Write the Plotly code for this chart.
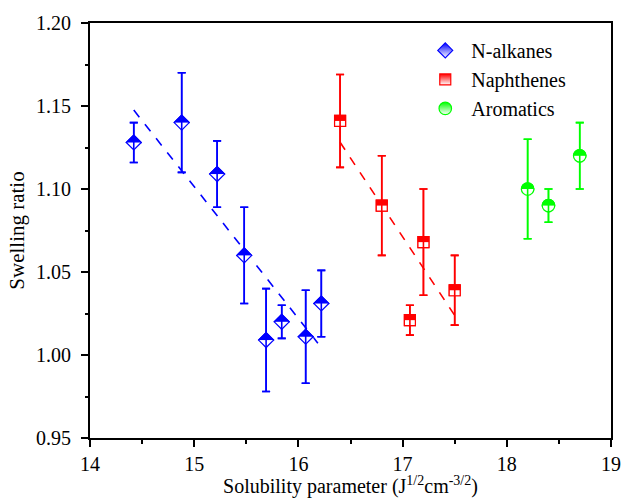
import numpy as np
import plotly.graph_objects as go

# N-alkanes
alk_x = [14.42, 14.88, 15.22, 15.48, 15.69, 15.84, 16.07, 16.22]
alk_y = [1.128, 1.140, 1.109, 1.060, 1.009, 1.020, 1.011, 1.031]
alk_e = [0.012, 0.030, 0.020, 0.029, 0.031, 0.010, 0.028, 0.020]
# Naphthenes
nap_x = [16.40, 16.80, 17.07, 17.20, 17.50]
nap_y = [1.141, 1.090, 1.021, 1.068, 1.039]
nap_e = [0.028, 0.030, 0.009, 0.032, 0.021]
# Aromatics
aro_x = [18.20, 18.40, 18.70]
aro_y = [1.100, 1.090, 1.120]
aro_e = [0.030, 0.010, 0.020]

BLUE = "#0000ff"
RED = "#ff0000"
GREEN = "#00ff00"
FONT = "Liberation Serif"

fig = go.Figure()


def fit_line(xs, ys, color):
    k, b = np.polyfit(xs, ys, 1)
    fx = [min(xs), max(xs)]
    fy = [k * v + b for v in fx]
    fig.add_trace(go.Scatter(x=fx, y=fy, mode="lines", showlegend=False,
                             hoverinfo="skip",
                             line=dict(color=color, width=1.6, dash="dash")))


fit_line(alk_x, alk_y, BLUE)
fit_line(nap_x, nap_y, RED)


def series(xs, ys, es, name, color, symbol, size, half, cover):
    err = dict(type="data", array=es, visible=True, color=color, thickness=1.6, width=4)
    # legend-carrying trace (gradient marker approximates the half-filled symbol)
    fig.add_trace(go.Scatter(
        x=xs, y=ys, mode="markers", name=name, error_y=err,
        marker=dict(symbol=symbol, size=size, color=color,
                    gradient=dict(type="vertical", color="white"),
                    line=dict(color=color, width=1.2)),
    ))
    # solid symbol
    fig.add_trace(go.Scatter(x=xs, y=ys, mode="markers", showlegend=False, hoverinfo="skip",
                             marker=dict(symbol=symbol, size=size, color=color,
                                         line=dict(width=0))))
    # white band hiding the lower half
    fig.add_trace(go.Scatter(x=xs, y=ys, mode="markers", showlegend=False, hoverinfo="skip",
                             marker=dict(symbol="line-ew", size=cover, angle=0,
                                         standoff=half / 2,
                                         line=dict(color="white", width=half))))
    # error bars again, visible through the open half
    fig.add_trace(go.Scatter(x=xs, y=ys, mode="markers", showlegend=False, hoverinfo="skip",
                             error_y=err,
                             marker=dict(size=1, color="rgba(0,0,0,0)")))
    # outline
    fig.add_trace(go.Scatter(x=xs, y=ys, mode="markers", showlegend=False, hoverinfo="skip",
                             marker=dict(symbol=symbol + "-open", size=size, color=color,
                                         line=dict(color=color, width=1.2))))


series(alk_x, alk_y, alk_e, "N-alkanes", BLUE, "diamond", 11.5, 7.6, 10.8)
series(nap_x, nap_y, nap_e, "Naphthenes", RED, "square", 11, 5.6, 8.0)
series(aro_x, aro_y, aro_e, "Aromatics", GREEN, "circle", 12.5, 6.4, 9.2)

axis_common = dict(showline=True, linecolor="black", linewidth=2, mirror=True,
                   ticks="outside", tickcolor="black", tickwidth=1.5, ticklen=7,
                   showgrid=False, zeroline=False, automargin=False,
                   tickfont=dict(family=FONT, size=20, color="black"))

fig.update_xaxes(range=[14, 19], dtick=1, tick0=14,
                 minor=dict(ticks="outside", ticklen=4, dtick=0.5, tickcolor="black", tickwidth=1.5),
                 title=dict(text="Solubility parameter (J<sup>1/2</sup>cm<sup>-3/2</sup>)",
                            font=dict(family=FONT, size=20, color="black"), standoff=4),
                 **axis_common)
fig.update_yaxes(range=[0.95, 1.20], dtick=0.05, tick0=0.95, tickformat=".2f",
                 ticklabelstandoff=6,
                 minor=dict(ticks="outside", ticklen=3, dtick=0.025, tickcolor="black", tickwidth=1.5),
                 title=dict(text="Swelling ratio",
                            font=dict(family=FONT, size=21, color="black"), standoff=6),
                 **axis_common)

fig.update_layout(
    width=623, height=498,
    margin=dict(l=90, r=12, t=23, b=60),
    paper_bgcolor="white", plot_bgcolor="white",
    font=dict(family=FONT, size=20, color="black"),
    legend=dict(x=0.632, y=0.981, xanchor="left", yanchor="top",
                bgcolor="rgba(0,0,0,0)", font=dict(family=FONT, size=20, color="black"),
                itemwidth=42, itemsizing="trace", tracegroupgap=0),
    showlegend=True,
)

fig.write_html("out.html")
